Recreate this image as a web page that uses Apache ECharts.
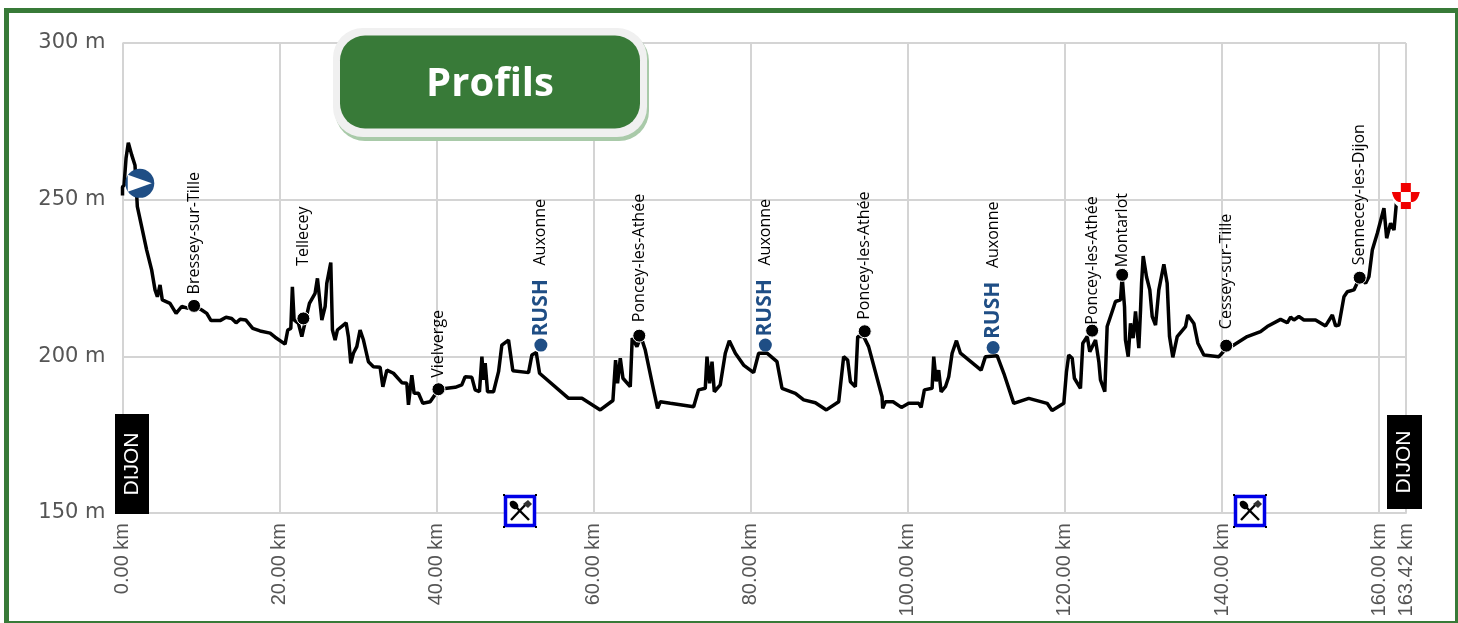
<!DOCTYPE html>
<html>
<head>
<meta charset="utf-8">
<title>Profils</title>
<script src="https://cdn.jsdelivr.net/npm/echarts@6/dist/echarts.min.js"></script>
<style>
html, body { margin: 0; padding: 0; background: #fff; }
#chart { width: 1458px; height: 623px; }
</style>
</head>
<body>
<div id="chart"></div>
<script>
// Elevation profile
const profileKm = [
	0, 0, 0.2, 0.45, 0.74, 0.96, 1.17, 1.59, 1.89, 2.44, 3.08, 3.71, 4.14, 4.44, 4.78, 5.07, 6.05, 6.82, 7.54, 8.39,
	9.11, 10.09, 10.73, 11.27, 12.42, 13.18, 13.9, 14.46, 14.97, 15.69, 16.58, 17.52, 18.79, 19.43, 20.7, 21.04, 21.43, 21.63, 21.85, 22.4,
	22.83, 23.12, 23.8, 24.52, 24.82, 25.07, 25.38, 25.8, 26.01, 26.52, 26.73, 27.07, 27.36, 28.47, 28.76, 29.07, 29.4, 29.83, 30.25, 30.68,
	31.31, 31.95, 32.8, 33.15, 33.66, 34.5, 35.57, 36.2, 36.41, 36.84, 37.13, 37.68, 38.24, 39.17, 40.27, 42.36, 43.2, 43.63, 44.48, 44.9,
	45.45, 45.76, 45.96, 46.18, 46.48, 47.24, 47.88, 48.3, 49.15, 49.7, 51.7, 52.12, 52.68, 53.1, 56.8, 58.5, 60.83, 62.44, 62.78, 63.03,
	63.38, 63.72, 64.65, 64.9, 65.5, 66.01, 66.56, 67.62, 68.13, 68.47, 69.75, 72.72, 73.35, 74.2, 74.42, 74.75, 75.06, 75.35, 76.11, 76.75,
	77.26, 78.03, 79.08, 80.36, 81, 82.06, 83.33, 83.97, 85.67, 86.73, 88.22, 89.62, 91.19, 91.82, 92.33, 92.68, 93.31, 93.61, 94.37, 95,
	96.71, 96.79, 97.13, 98.11, 99.17, 100.1, 101.38, 101.68, 102.1, 103.08, 103.29, 103.6, 103.92, 104.23, 104.78, 105.2, 105.63, 106.18, 106.69, 109.32,
	109.87, 111.36, 112.21, 113.48, 115.39, 117.73, 118.36, 119.85, 120.19, 120.48, 120.92, 121.2, 121.97, 122.27, 122.83, 123.16, 123.89, 124.31, 124.52, 125.07,
	125.37, 126.01, 126.43, 127.07, 127.28, 127.58, 127.7, 128.05, 128.34, 128.68, 128.98, 129.4, 129.62, 129.75, 129.96, 130.38, 130.8, 131.11, 131.53, 131.95,
	132.59, 133.01, 133.31, 133.73, 134.29, 135.35, 135.64, 136.41, 136.92, 137.68, 139.6, 140.53, 141.5, 143.2, 144.9, 145.75, 147.45, 148.3, 148.73, 149.15,
	149.78, 150.42, 151.9, 153.18, 154.04, 154.46, 154.88, 155.52, 155.95, 156.79, 157.52, 158.28, 158.7, 159.13, 159.77, 160.61, 160.96, 161.46, 161.89, 162.23,
	163.42
]
const profileAlt = [
	251.3, 254, 254.7, 263.2, 268.2, 268, 264.3, 261, 247.8, 241.4, 233.9, 227.6, 221.2, 219, 222.8, 218, 216.9, 213.7, 215.9, 215.3,
	216.1, 214.8, 213.7, 211.4, 211.4, 212.5, 212.1, 210.7, 211.8, 211.6, 208.9, 208.1, 207.4, 206.1, 203.9, 208.4, 208.9, 222.2, 211.6, 210.5,
	206.3, 209.5, 216.9, 220.1, 224.9, 219, 211.6, 215.9, 223.3, 229.9, 208.4, 205.2, 208.4, 210.7, 206.3, 197.8, 201, 203.1, 208.4, 205.2,
	198.3, 196.7, 196.5, 190.3, 195.6, 194.6, 191.6, 191.4, 184.5, 194, 188.2, 188.2, 185, 185.5, 189.5, 190.1, 190.9, 193.5, 193.3, 189.3,
	188.7, 199.9, 192.5, 197.8, 188.7, 188.7, 195.1, 203.6, 205.2, 195.4, 194.8, 200.4, 201.2, 194.6, 186.6, 186.6, 182.9, 185.9, 198.8, 191.4,
	199.4, 193, 190.3, 205.8, 203.1, 206.3, 202, 189.3, 183.4, 185.5, 185, 183.9, 189.3, 189.8, 199.9, 191.4, 198.3, 188.7, 190.9, 201,
	205, 201, 197.2, 194.8, 201, 201, 198.3, 189.8, 188.2, 186.1, 185.2, 182.9, 185.5, 199.9, 198.8, 191.9, 190.3, 206.3, 206.3, 203.1,
	187.1, 183.4, 185.5, 185.5, 183.7, 185, 185, 183.7, 189.3, 189.8, 199.9, 192, 195.6, 188.7, 190.3, 193.5, 201, 205, 201, 195.6,
	199.9, 200.2, 194.6, 185, 186.6, 185, 182.7, 185, 195.1, 200.4, 199.4, 193, 189.8, 204.2, 206.3, 201.5, 205.2, 198.3, 192.5, 188.7,
	209.5, 214.3, 217.5, 218, 225.4, 215.9, 205.2, 199.9, 210.5, 205.8, 214.3, 202.6, 214.8, 223.3, 232, 225.4, 221.2, 212.7, 210, 221.2,
	229.4, 223.3, 206.3, 199.7, 206.3, 209.5, 213.2, 210.5, 204.2, 200.4, 199.9, 202.5, 203.6, 206.3, 207.9, 209.5, 211.8, 210.7, 212.5, 211.6,
	212.7, 211.6, 211.6, 209.7, 213.2, 209.7, 210, 219, 220.6, 221.2, 225.1, 223.3, 225.4, 233.9, 239.3, 247.3, 237.7, 242.5, 240.3, 249.9,
	251.2
]

const stopNames = ['Bressey-sur-Tille', 'Tellecey', 'Vielverge', 'Poncey-les-Athée', 'Poncey-les-Athée', 'Poncey-les-Athée', 'Montarlot', 'Cessey-sur-Tille', 'Sennecey-les-Dijon']
const stopKm = [9.11, 23.03, 40.23, 65.8, 94.5, 123.46, 127.28, 140.53, 157.52]
const stopAlt = [216.1, 212.1, 189.5, 206.6, 208, 208.2, 226, 203.4, 225.1]

const rushKm = [53.27, 81.85, 110.85]
const rushAlt = [203.6, 203.6, 202.8]
const rushTown = 'Auxonne'
const rushName = 'RUSH'

const startPoint = [2.2, 255.2]
const finishPoint = [163.4, 251.2]

const altRange = [150, 300]
const kmMax = 163.42
const badgeTitle = 'Profils'
const cityLabel = 'DIJON'

const GREEN = '#387a38'
const BLUE = '#1f4e85'
const AXIS_TEXT = '#555'
const GRID_LINE = '#d4d4d4'

// gap and sideways shift of each stop's rotated name
const stopGaps = [1.5, 45.5, 4.5, 6.5, 4.5, 0, 1.5, 8.5, 6.5]
const stopShifts = [3, 0, 0, 0, 0, -1, -1, 1, -1]

const forkIcon = (x, y) => {
	const handles = [[0, 0], [32, 0], [0, 32], [32, 32]].map(([hx, hy]) => ({
		type: 'rect',
		z: 21,
		shape: { x: hx, y: hy, width: 2, height: 2 },
		style: { fill: '#000' }
	}))
	return {
		type: 'group',
		x: x,
		y: y,
		children: [
			{
				type: 'rect',
				z: 20,
				shape: { x: 2.5, y: 2.5, width: 29, height: 29 },
				style: { fill: '#fff', stroke: '#0000e6', lineWidth: 3.5 }
			},
			{
				type: 'line',
				z: 21,
				shape: { x1: 9, y1: 9, x2: 26, y2: 26 },
				style: { stroke: '#000', lineWidth: 2.4 }
			},
			{
				type: 'line',
				z: 21,
				shape: { x1: 24, y1: 9, x2: 8, y2: 26 },
				style: { stroke: '#000', lineWidth: 2.4 }
			},
			{
				type: 'ellipse',
				z: 21,
				shape: { cx: 11, cy: 11, rx: 3.6, ry: 5 },
				rotation: Math.PI / 4,
				originX: 11,
				originY: 11,
				style: { fill: '#000' }
			},
			{
				type: 'polygon',
				z: 21,
				shape: { points: [[20, 10], [25, 6], [29, 10], [25, 14]] },
				style: { fill: '#333' }
			},
			...handles
		]
	}
}

const cityBox = (x, y, w, h) => ({
	type: 'group',
	x: x,
	y: y,
	children: [
		{
			type: 'rect',
			z: 20,
			shape: { x: 0, y: 0, width: w, height: h },
			style: { fill: '#000' }
		},
		{
			type: 'text',
			z: 21,
			x: w / 2,
			y: h / 2,
			rotation: Math.PI / 2,
			style: {
				text: cityLabel,
				fill: '#fff',
				font: '21px "Liberation Sans"',
				align: 'center',
				verticalAlign: 'middle'
			}
		}
	]
})

const borderBar = (x, y, width, height) => ({
	type: 'rect',
	z: 30,
	shape: { x, y, width, height },
	style: { fill: GREEN }
})

const chart = echarts.init(document.getElementById('chart'))

const option = {
	backgroundColor: '#fff',
	animation: false,
	grid: { left: 122.5, top: 43, width: 1283.5, height: 470 },
	xAxis: {
		type: 'value',
		min: 0,
		max: kmMax,
		interval: 20,
		axisLine: { show: true, lineStyle: { color: GRID_LINE, width: 2 } },
		axisTick: { show: false },
		axisLabel: {
			rotate: 90,
			margin: 10,
			color: AXIS_TEXT,
			fontFamily: 'Liberation Sans',
			fontSize: 20,
			showMaxLabel: true,
			hideOverlap: false,
			formatter: (v) => v.toFixed(2) + ' km'
		},
		splitLine: { show: true, lineStyle: { color: GRID_LINE, width: 2 } }
	},
	yAxis: {
		type: 'value',
		min: altRange[0],
		max: altRange[1],
		interval: 50,
		axisLine: { show: false },
		axisTick: { show: false },
		axisLabel: {
			margin: 17,
			color: AXIS_TEXT,
			fontFamily: 'DejaVu Sans',
			fontSize: 21,
			formatter: '{value} m'
		},
		splitLine: { show: true, lineStyle: { color: GRID_LINE, width: 2 } }
	},
	series: [
		{
			type: 'line',
			data: profileKm.map((km, i) => [km, profileAlt[i]]),
			showSymbol: false,
			clip: false,
			lineStyle: { color: '#000', width: 3.5 },
			z: 3
		},
		{
			type: 'scatter',
			data: stopKm.map((km, i) => ({
				value: [km, stopAlt[i]],
				name: stopNames[i],
				label: { distance: stopGaps[i], offset: [stopShifts[i], 0] }
			})),
			symbolSize: 13,
			itemStyle: { color: '#000', opacity: 1, borderColor: '#fff', borderWidth: 1 },
			label: {
				show: true,
				position: 'top',
				rotate: 90,
				align: 'left',
				verticalAlign: 'middle',
				color: '#000',
				fontFamily: 'Open Sans',
				fontSize: 16,
				formatter: (p) => p.name
			},
			z: 5
		},
		{
			type: 'scatter',
			data: rushKm.map((km, i) => [km, rushAlt[i]]),
			symbolSize: 13,
			itemStyle: { color: BLUE, opacity: 1 },
			label: {
				show: true,
				position: 'top',
				distance: 2,
				rotate: 90,
				align: 'left',
				verticalAlign: 'middle',
				color: BLUE,
				fontFamily: 'Open Sans',
				fontWeight: 'bold',
				fontSize: 21,
				formatter: rushName
			},
			z: 5
		},
		{
			type: 'scatter',
			data: rushKm.map((km, i) => [km, rushAlt[i]]),
			symbolSize: 1,
			itemStyle: { color: 'transparent', opacity: 1 },
			label: {
				show: true,
				position: 'top',
				distance: 77,
				offset: [2, 0],
				rotate: 90,
				align: 'left',
				verticalAlign: 'middle',
				color: '#000',
				fontFamily: 'Open Sans',
				fontSize: 16,
				formatter: rushTown
			},
			z: 5
		},
		{
			type: 'scatter',
			data: [startPoint],
			symbolSize: 29,
			itemStyle: { color: BLUE, opacity: 1 },
			z: 6
		},
		{
			type: 'scatter',
			data: [startPoint],
			symbol: 'triangle',
			symbolSize: [17, 24],
			symbolRotate: -90,
			itemStyle: { color: '#fff', opacity: 1 },
			z: 7
		},
		{
			type: 'scatter',
			data: [finishPoint],
			symbol: 'circle',
			symbolSize: [27, 26],
			itemStyle: { color: '#fff', opacity: 1 },
			z: 6
		},
		{
			type: 'scatter',
			data: [finishPoint],
			symbol: 'path://M9 0H19V9H9ZM0 9H9V19H7Q2 18 0 9ZM19 9H28Q26 18 21 19H19ZM9 19H19V26H9Z',
			symbolSize: [28, 26],
			itemStyle: { color: '#f00000', opacity: 1 },
			z: 7
		}
	],
	graphic: [
		borderBar(4, 8, 1454, 5),
		borderBar(4, 8, 5, 615),
		borderBar(1455, 8, 3, 615),
		borderBar(4, 621, 1454, 2),
		{
			type: 'rect',
			shape: { x: 335, y: 31, width: 314, height: 110, r: 30 },
			style: { fill: '#a9caa9' },
			z: 21
		},
		{
			type: 'rect',
			shape: { x: 333, y: 28, width: 314, height: 109, r: 30 },
			style: { fill: '#f0f0f0' },
			z: 22
		},
		{
			type: 'rect',
			shape: { x: 340, y: 35.5, width: 300, height: 93, r: 25 },
			style: { fill: GREEN },
			z: 23
		},
		{
			type: 'text',
			x: 490,
			y: 85,
			style: {
				text: badgeTitle,
				fill: '#fff',
				font: 'bold 40px "Open Sans"',
				align: 'center',
				verticalAlign: 'middle'
			},
			z: 24
		},
		cityBox(115, 414, 34, 100),
		cityBox(1387, 415, 35, 94),
		forkIcon(503, 494),
		forkIcon(1233, 494)
	]
}

chart.setOption(option)
</script>
</body>
</html>
